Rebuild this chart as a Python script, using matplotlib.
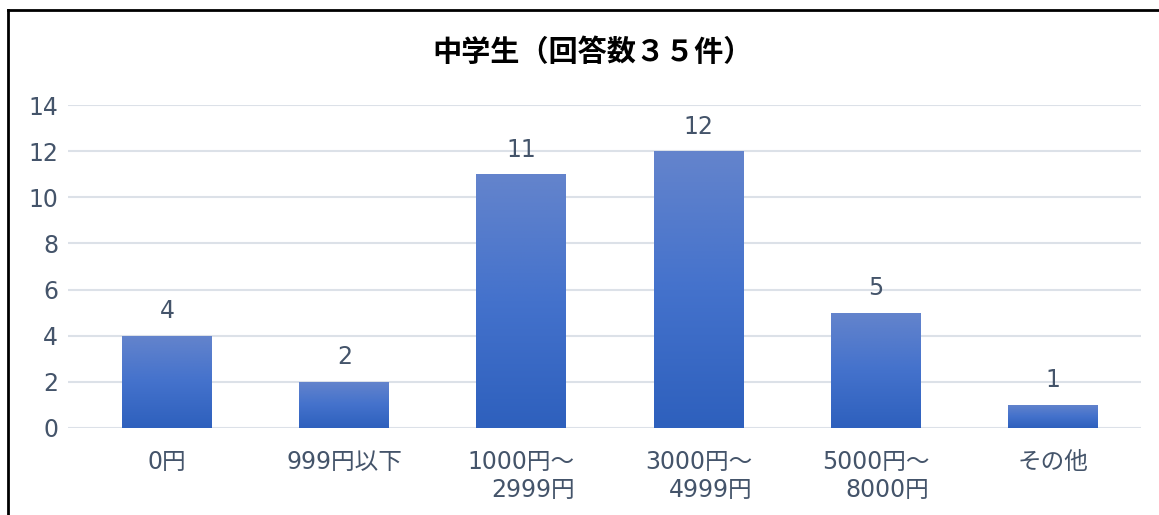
import matplotlib
matplotlib.use("Agg")
import matplotlib.pyplot as plt
import numpy as np
from matplotlib.colors import LinearSegmentedColormap
from matplotlib.lines import Line2D

plt.rcParams["font.family"] = ["DejaVu Sans", "Noto Sans CJK JP"]

title = "中学生（回答数３５件）"
categories = ["0円", "999円以下", "1000円～\n2999円", "3000円～\n4999円", "5000円～\n8000円", "その他"]
counts = [4, 2, 11, 12, 5, 1]
yticks = [0, 2, 4, 6, 8, 10, 12, 14]

TEXT = "#44546A"
GRID = "#DCE1E8"
grad = LinearSegmentedColormap.from_list("bar", ["#2E60BD", "#4472CC", "#6484CC"])

fig = plt.figure(figsize=(11.59, 5.15), dpi=100)
ax = fig.add_axes([0.0587, 0.169, 0.926, 0.627])

x = np.arange(len(categories))
bars = ax.bar(x, counts, width=0.508, color="none", zorder=3)

# gradient fill, clipped to each bar
g = np.linspace(0, 1, 256).reshape(-1, 1)
for b in bars:
    x0, y0 = b.get_x(), b.get_y()
    w, h = b.get_width(), b.get_height()
    im = ax.imshow(g, cmap=grad, origin="lower", aspect="auto",
                   extent=[x0, x0 + w, y0, y0 + h], zorder=3)
    im.set_clip_path(b)

for xi, v in zip(x, counts):
    ax.annotate(str(v), (xi, v), xytext=(0, 9), textcoords="offset points",
                ha="center", va="bottom", fontsize=17, color=TEXT)

ax.set_xlim(-0.56, len(categories) - 0.5)
ax.set_ylim(0, 14)
ax.set_yticks(yticks)
ax.set_xticks(x)
ax.set_xticklabels(categories, linespacing=1.2, multialignment="right")
ax.tick_params(axis="both", length=0, labelsize=17, labelcolor=TEXT)
ax.tick_params(axis="x", pad=16)
ax.tick_params(axis="y", pad=7)
ax.grid(axis="y", color=GRID, linewidth=1.5, zorder=0)
ax.set_axisbelow(True)
for s in ax.spines.values():
    s.set_visible(False)

fig.text(0.511, 0.899, title, ha="center", va="center", fontsize=21,
         fontweight="bold", color="black", family="Noto Sans CJK JP")

# chart frame (left and top edges visible)
fig.add_artist(Line2D([0.0065, 0.0065], [0, 0.9806], color="black", lw=2))
fig.add_artist(Line2D([0.0065, 1.0], [0.9806, 0.9806], color="black", lw=2))

fig.savefig("out.png", dpi=100)
